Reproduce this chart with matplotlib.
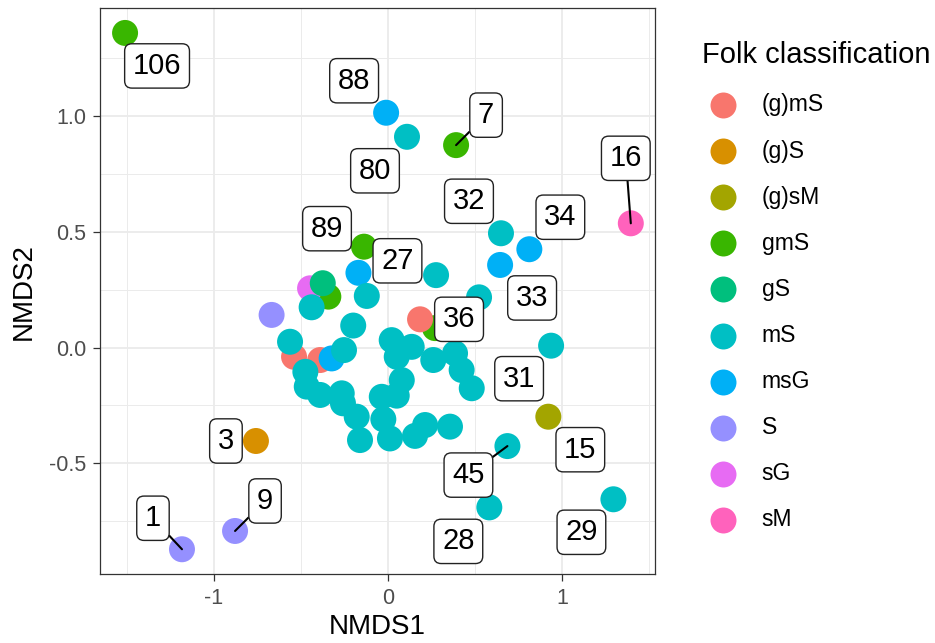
import matplotlib
matplotlib.use("Agg")
import matplotlib.pyplot as plt
import pandas as pd
from matplotlib.lines import Line2D
from matplotlib.ticker import MultipleLocator, FormatStrFormatter

plt.rcParams["font.family"] = ["Liberation Sans", "DejaVu Sans"]

# Folk classes in legend order, default ggplot hue colours
folk_levels = ["(g)mS", "(g)S", "(g)sM", "gmS", "gS", "mS", "msG", "S", "sG", "sM"]
folk_colors = ["#F8766D", "#D89000", "#A3A500", "#39B600", "#00BF7D",
               "#00BFC4", "#00B0F6", "#9590FF", "#E76BF3", "#FF62BC"]

# sample id ("" = label dropped by the repel step)
sample_ids = ["106", "88", "80", "7", "16", "32", "34", "33", "", "",
              "36", "", "31", "15", "45", "28", "29", "3", "9", "1",
              "", "89", "27", "", "", "", "", "", "", "",
              "", "", "", "", "", "", "", "", "", "",
              "", "", "", "", "", "", "", "", "", "",
              "", "", "", "", "", ""]
nmds1 = [-1.511, -0.011, 0.109, 0.391, 1.395, 0.649, 0.812, 0.644, 0.276, 0.523,
         0.184, 0.270, 0.937, 0.921, 0.686, 0.582, 1.295, -0.759, -0.879, -1.184,
         -0.669, -0.138, -0.170, -0.122, -0.448, -0.375, -0.343, -0.439, -0.200, -0.563,
         -0.540, -0.390, -0.324, -0.253, -0.467, -0.390, -0.266, -0.259, -0.180, -0.161,
         -0.036, -0.027, 0.021, 0.136, 0.050, 0.260, 0.385, 0.423, 0.481, 0.079,
         0.050, 0.011, 0.155, 0.213, 0.356, -0.475]
nmds2 = [1.360, 1.015, 0.911, 0.875, 0.537, 0.494, 0.425, 0.357, 0.313, 0.217,
         0.122, 0.084, 0.008, -0.299, -0.426, -0.691, -0.656, -0.404, -0.793, -0.872,
         0.141, 0.436, 0.323, 0.223, 0.256, 0.278, 0.220, 0.174, 0.095, 0.025,
         -0.040, -0.054, -0.047, -0.011, -0.169, -0.205, -0.198, -0.241, -0.299, -0.400,
         -0.213, -0.310, 0.032, 0.003, -0.040, -0.054, -0.025, -0.097, -0.176, -0.141,
         -0.208, -0.393, -0.382, -0.335, -0.342, -0.105]
folk = ["gmS", "msG", "mS", "gmS", "sM", "mS", "msG", "msG", "mS", "mS",
        "(g)mS", "gmS", "mS", "(g)sM", "mS", "mS", "mS", "(g)S", "S", "S",
        "S", "gmS", "msG", "mS", "sG", "gS", "gmS", "mS", "mS", "mS",
        "(g)mS", "(g)mS", "msG", "mS", "mS", "mS", "mS", "mS", "mS", "mS",
        "mS", "mS", "mS", "mS", "mS", "mS", "mS", "mS", "mS", "mS",
        "mS", "mS", "mS", "mS", "mS", "mS"]

# where the repelled labels ended up, pixel offset from the point (x right, y down)
label_offsets = {
    "106": (32, 33), "88": (-32, -32), "80": (-32, 34), "7": (30, -30),
    "16": (-5, -65), "32": (-32, -32), "34": (31, -32), "33": (32, 33),
    "36": (39, 0), "31": (-32, 33), "15": (32, 33), "45": (-39, 29),
    "28": (-31, 34), "29": (-32, 33), "3": (-30, 0), "9": (30, -30),
    "1": (-29, -31), "89": (-37, -18), "27": (39, -12),
}
with_segment = ["7", "16", "45", "9", "1"]

# drawing order so overlaps look like the original
draw_order = ["gmS", "sG", "gS", "(g)mS", "(g)S", "(g)sM", "S", "sM", "msG", "mS"]

df = pd.DataFrame({"id": sample_ids, "NMDS1": nmds1, "NMDS2": nmds2, "folk": folk})
colmap = dict(zip(folk_levels, folk_colors))

W, H = 935, 643
fig = plt.figure(figsize=(W / 100, H / 100), dpi=100)
ax = fig.add_axes([100 / W, 1 - 574 / H, 555 / W, 565.7 / H])

for i, grp in enumerate(draw_order):
    sub = df[df["folk"] == grp]
    ax.scatter(sub["NMDS1"], sub["NMDS2"], s=350, color=colmap[grp],
               edgecolors="none", zorder=2 + i * 0.01)

for _, row in df.iterrows():
    if row["id"] == "":
        continue
    dx, dy = label_offsets[row["id"]]
    arrow = None
    if row["id"] in with_segment:
        arrow = dict(arrowstyle="-", color="black", lw=1.5, shrinkA=0, shrinkB=0)
    ax.annotate(row["id"], xy=(row["NMDS1"], row["NMDS2"]), xytext=(dx, -dy),
                textcoords="offset pixels", ha="center", va="center", fontsize=21,
                color="black", zorder=5, arrowprops=arrow,
                bbox=dict(boxstyle="round,pad=0.28,rounding_size=0.25", fc="white",
                          ec="#222222", lw=1.0))

ax.set_xlim(-1.655, 1.534)
ax.set_ylim(-0.979, 1.4665)
ax.xaxis.set_major_locator(MultipleLocator(1))
ax.xaxis.set_minor_locator(MultipleLocator(0.5))
ax.yaxis.set_major_locator(MultipleLocator(0.5))
ax.yaxis.set_minor_locator(MultipleLocator(0.25))
ax.xaxis.set_major_formatter(FormatStrFormatter("%g"))
ax.yaxis.set_major_formatter(FormatStrFormatter("%.1f"))
ax.grid(which="major", color="#EBEBEB", lw=1.3)
ax.grid(which="minor", color="#EBEBEB", lw=0.7)
ax.set_axisbelow(True)
ax.tick_params(which="major", length=5, width=0.9, color="#333333",
               labelsize=15.5, labelcolor="#4D4D4D", pad=5)
ax.tick_params(which="minor", length=0)
for sp in ax.spines.values():
    sp.set_color("#333333")
    sp.set_linewidth(0.9)

ax.set_xlabel("NMDS1", fontsize=20)
ax.set_ylabel("NMDS2", fontsize=20)
ax.xaxis.label.set_va("center")
ax.yaxis.label.set_va("center")
ax.xaxis.set_label_coords(0.5, (574 - 626.7) / 565.7)
ax.yaxis.set_label_coords((23.3 - 100) / 555, 0.5)

# legend, laid out like the ggplot guide
fig.text(701.7 / W, 1 - 55 / H, "Folk classification", fontsize=21,
         ha="left", va="center")
for i, (lev, col) in enumerate(zip(folk_levels, folk_colors)):
    yk = 1 - (105 + 46.1 * i) / H
    fig.add_artist(Line2D([723.3 / W], [yk], marker="o", markersize=18.7,
                          color=col, markeredgewidth=0, linestyle="none"))
    fig.text(761.7 / W, yk, lev, fontsize=16.5, ha="left", va="center")

fig.savefig("out.png", dpi=100)
